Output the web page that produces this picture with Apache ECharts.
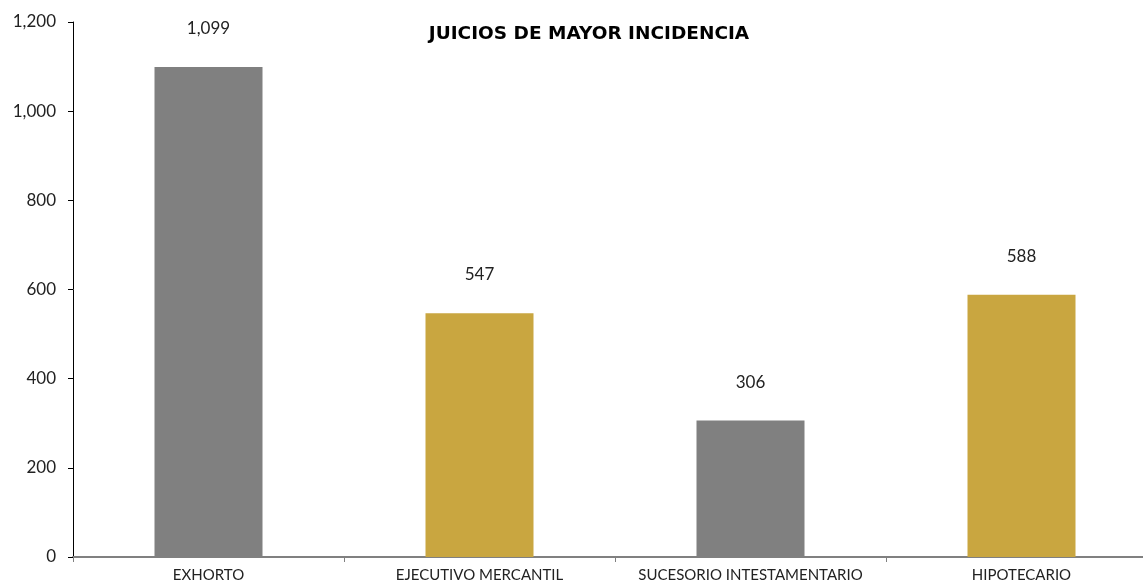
<!DOCTYPE html>
<html>
<head>
<meta charset="utf-8">
<script src="https://cdn.jsdelivr.net/npm/echarts@6/dist/echarts.min.js"></script>
<style>
  html, body { margin: 0; padding: 0; background: #fff; }
  #chart { width: 1143px; height: 587px; }
</style>
</head>
<body>
<div id="chart"></div>
<script>
const categories = ["EXHORTO", "EJECUTIVO MERCANTIL", "SUCESORIO INTESTAMENTARIO", "HIPOTECARIO"];
const values = [1099, 547, 306, 588];
const barColors = ["#808080", "#C9A640", "#808080", "#C9A640"];

const chart = echarts.init(document.getElementById("chart"));
const font = "Lato, 'DejaVu Sans', sans-serif";

chart.setOption({
  animation: false,
  title: {
    text: "JUICIOS DE MAYOR INCIDENCIA",
    left: 584,
    top: 20,
    textAlign: "center",
    textStyle: { fontFamily: "'DejaVu Sans', sans-serif", fontSize: 18.5, fontWeight: "bold", color: "#000" }
  },
  grid: { left: 73, right: -14, top: 22, bottom: 30, outerBoundsMode: "none" },
  xAxis: {
    type: "category",
    data: categories,
    axisLine: { lineStyle: { color: "#808080", width: 2 } },
    axisTick: { show: true, length: 5, lineStyle: { color: "#808080" } },
    axisLabel: { interval: 0, fontFamily: font, fontSize: 15, color: "#222", margin: 11 }
  },
  yAxis: {
    type: "value",
    min: 0,
    max: 1200,
    interval: 200,
    splitLine: { show: false },
    axisLine: { show: true, lineStyle: { color: "#000", width: 1 } },
    axisTick: { show: true, length: 5, lineStyle: { color: "#000" } },
    axisLabel: {
      fontFamily: font, fontSize: 17, color: "#222", margin: 17,
      formatter: v => v.toLocaleString("en-US")
    }
  },
  series: [{
    type: "bar",
    barWidth: 108,
    data: values.map((v, i) => ({ value: v, itemStyle: { color: barColors[i] } })),
    label: {
      show: true,
      position: "top",
      distance: 30,
      fontFamily: font,
      fontSize: 17,
      color: "#222",
      formatter: p => p.value.toLocaleString("en-US")
    }
  }]
});
</script>
</body>
</html>
